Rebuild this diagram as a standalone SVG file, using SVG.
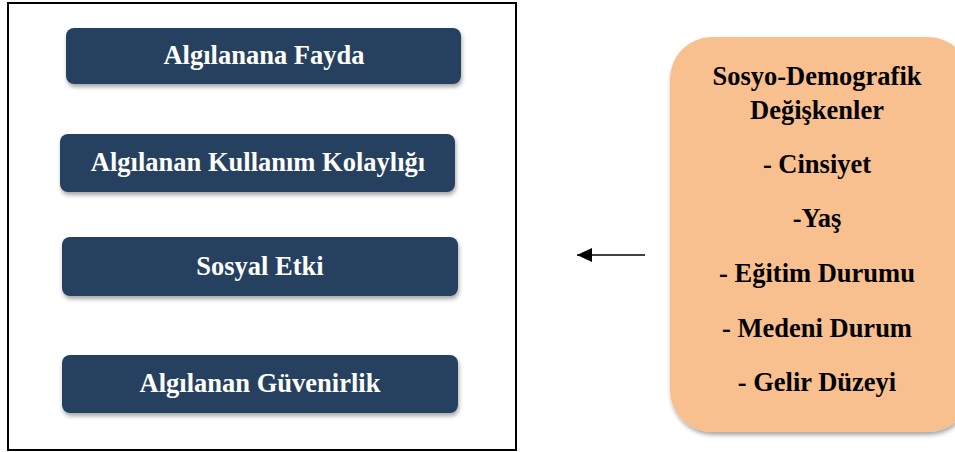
<svg xmlns="http://www.w3.org/2000/svg" width="955" height="452" viewBox="0 0 955 452">
<style>
.nb{fill:#264061;}
.nt{font-family:"Liberation Serif","Times New Roman",serif;font-weight:bold;font-size:26.5px;fill:#ffffff;text-anchor:middle;}
.ot{font-family:"Liberation Serif","Times New Roman",serif;font-weight:bold;font-size:26.5px;fill:#000000;text-anchor:middle;}
</style>
<defs>
<filter id="sh" x="-10%" y="-20%" width="120%" height="150%">
<feDropShadow dx="1" dy="3" stdDeviation="2" flood-color="#000" flood-opacity="0.35"/>
</filter>
<marker id="ah" markerWidth="16" markerHeight="14" refX="15" refY="7" orient="auto" markerUnits="userSpaceOnUse">
<path d="M0,0 L15,7 L0,14 Z" fill="#000"/>
</marker>
</defs>
<rect x="0" y="0" width="955" height="452" fill="#fff"/>
<g id="frame">
<rect x="8" y="3" width="508" height="447" fill="none" stroke="#000" stroke-width="2"/>
</g>
<g id="n1">
<rect class="nb" x="66" y="28" width="395" height="56" rx="8" filter="url(#sh)"/>
<text class="nt" x="264" y="64">Algılanana Fayda</text>
</g>
<g id="n2">
<rect class="nb" x="60" y="134" width="395" height="58" rx="8" filter="url(#sh)"/>
<text class="nt" x="258" y="171">Algılanan Kullanım Kolaylığı</text>
</g>
<g id="n3">
<rect class="nb" x="62" y="237" width="396" height="59" rx="8" filter="url(#sh)"/>
<text class="nt" x="260" y="275">Sosyal Etki</text>
</g>
<g id="n4">
<rect class="nb" x="62" y="355" width="396" height="58" rx="8" filter="url(#sh)"/>
<text class="nt" x="260" y="392">Algılanan Güvenirlik</text>
</g>
<g id="n5">
<rect x="670" y="37" width="300" height="395" rx="42" fill="#F8BF8F" filter="url(#sh)"/>
<text class="ot" x="817" y="85">Sosyo-Demografik</text>
<text class="ot" x="817" y="119">Değişkenler</text>
<text class="ot" x="817" y="173">- Cinsiyet</text>
<text class="ot" x="817" y="227">-Yaş</text>
<text class="ot" x="817" y="282">- Eğitim Durumu</text>
<text class="ot" x="817" y="337">- Medeni Durum</text>
<text class="ot" x="817" y="391">- Gelir Düzeyi</text>
</g>
<g id="connectors">
<line x1="645" y1="255" x2="577" y2="255" stroke="#000" stroke-width="1.5" marker-end="url(#ah)"/>
</g>
</svg>
